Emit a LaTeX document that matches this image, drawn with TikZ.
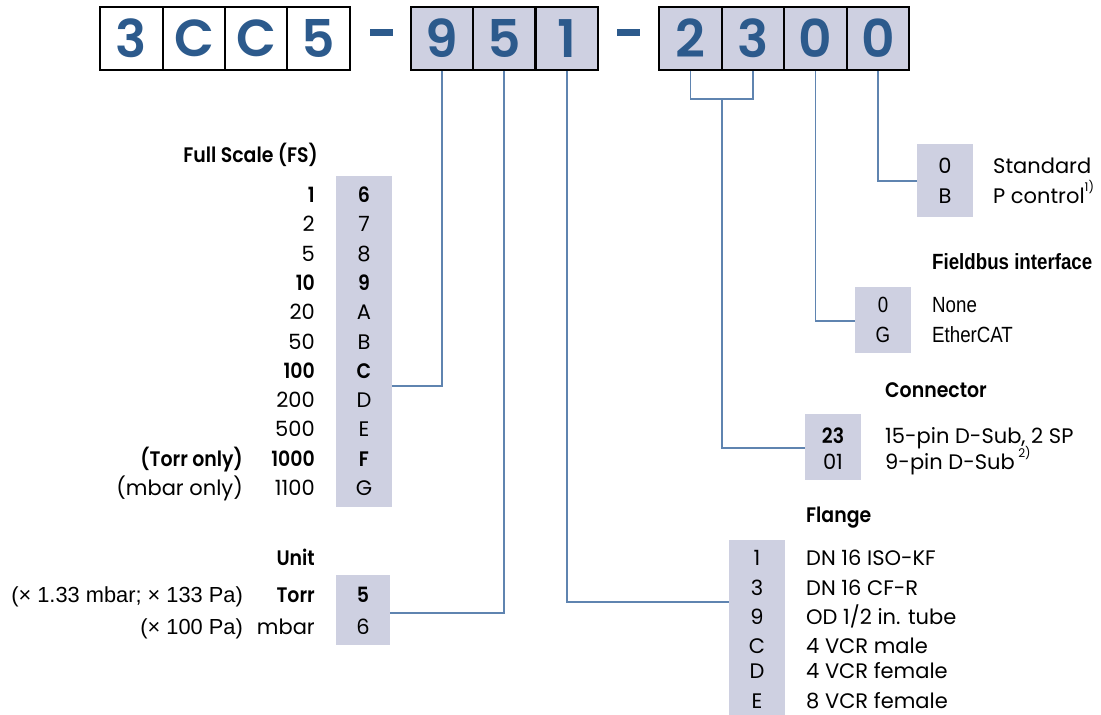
\documentclass[tikz,border=0pt]{standalone}
\usepackage{fontspec}
\setmainfont{Poppins}[BoldFont={Poppins SemiBold}, BoldFeatures={FakeStretch=0.9}]
\newfontfamily\digitfont{Poppins SemiBold}
\newfontfamily\narrowfont{Liberation Sans}[FakeStretch=0.85]
\newfontfamily\helvfont{Liberation Sans}
\usepackage{tikz}
\definecolor{codeblue}{HTML}{2C5A8C}
\definecolor{codegray}{HTML}{CED0E1}
\definecolor{linkblue}{HTML}{5F84B0}
\newcommand{\noteref}[1]{\raisebox{0.55em}{\fontsize{12}{12}\selectfont #1}}
\tikzset{
  digit/.style={draw=black, line width=1.8pt, minimum width=62.5pt, minimum height=63pt, inner sep=0pt,
    font=\digitfont\fontsize{52}{52}\selectfont, text=codeblue},
  coded/.style={digit, fill=codegray},
  bar/.style={fill=codeblue, minimum width=23pt, minimum height=7pt, inner sep=0pt},
  codecol/.style={fill=codegray, inner sep=0pt},
  entry/.style={font=\fontsize{21}{24}\selectfont, text height=15pt, text depth=0pt, inner sep=0pt},
  slim/.style={font=\narrowfont\fontsize{22}{24}\selectfont, text height=15pt, text depth=0pt, inner sep=0pt},
  head/.style={entry, font=\fontsize{21}{24}\selectfont\bfseries},
  link/.style={linkblue, line width=1.4pt},
}

\begin{document}
\begin{tikzpicture}[x=1pt,y=-1pt]
\useasboundingbox (0,0) rectangle (1101,715);

\node[digit] (p1) at (131.5,38.5) {3};
\node[digit] (p2) at (194,38.5) {C};
\node[digit] (p3) at (256,38.5) {C};
\node[digit] (p4) at (318.5,38.5) {5};
\node[bar] (dashA) at (381.5,32) {};
\node[coded] (cfs) at (442,38.5) {9};
\node[coded] (cunit) at (504,38.5) {5};
\node[coded] (cfl) at (567,38.5) {1};
\node[bar] (dashB) at (628.5,32) {};
\node[coded] (ccon1) at (690.5,38.5) {2};
\node[coded] (ccon2) at (753,38.5) {3};
\node[coded] (cbus) at (815.5,38.5) {0};
\node[coded] (cctl) at (878,38.5) {0};

\node[codecol, minimum width=56pt, minimum height=331pt] (fscol) at (364,341.5) {};
\node[head, anchor=east] (fshead) at (318,155) {Full Scale (FS)};
\node[entry] (fs6) at (364,195) {\bfseries 6};
\node[entry] (fs7) at (364,224.3) {7};
\node[entry] (fs8) at (364,253.6) {8};
\node[entry] (fs9) at (364,282.9) {\bfseries 9};
\node[entry] (fsA) at (364,312.2) {A};
\node[entry] (fsB) at (364,341.5) {B};
\node[entry] (fsC) at (364,370.8) {\bfseries C};
\node[entry] (fsD) at (364,400.1) {D};
\node[entry] (fsE) at (364,429.4) {E};
\node[entry] (fsF) at (364,458.7) {\bfseries F};
\node[entry] (fsG) at (364,488) {G};
\node[entry, anchor=east] (fv1) at (315,195) {\bfseries 1};
\node[entry, anchor=east] (fv2) at (315,224.3) {2};
\node[entry, anchor=east] (fv5) at (315,253.6) {5};
\node[entry, anchor=east] (fv10) at (315,282.9) {\bfseries 10};
\node[entry, anchor=east] (fv20) at (315,312.2) {20};
\node[entry, anchor=east] (fv50) at (315,341.5) {50};
\node[entry, anchor=east] (fv100) at (315,370.8) {\bfseries 100};
\node[entry, anchor=east] (fv200) at (315,400.1) {200};
\node[entry, anchor=east] (fv500) at (315,429.4) {500};
\node[entry, anchor=east] (fv1000) at (315,458.7) {\bfseries 1000};
\node[entry, anchor=east] (fv1100) at (315,488) {1100};
\node[entry, anchor=east] (torronly) at (243,458.7) {\bfseries (Torr only)};
\node[entry, anchor=east] (mbaronly) at (243,488) {(mbar only)};

\node[codecol, minimum width=54pt, minimum height=70pt] (unitcol) at (363,610) {};
\node[head, anchor=east] (unithead) at (315,558) {Unit};
\node[entry] (u5) at (363,595) {\bfseries 5};
\node[entry] (u6) at (363,627) {6};
\node[entry, anchor=east] (utorr) at (315,595) {\bfseries Torr};
\node[entry, anchor=east] (umbar) at (315,627) {mbar};
\node[entry, anchor=east, font=\helvfont\fontsize{21.8}{24}\selectfont] (utorrpa) at (243,595) {(× 1.33 mbar; × 133 Pa)};
\node[entry, anchor=east, font=\helvfont\fontsize{21.8}{24}\selectfont] (umbarpa) at (243,627) {(× 100 Pa)};

\node[codecol, minimum width=56pt, minimum height=175pt] (flcol) at (757,627.5) {};
\node[head, anchor=west] (flhead) at (806,515) {Flange};
\node[entry] (fl1) at (757,558) {1};
\node[entry] (fl3) at (757,588) {3};
\node[entry] (fl9) at (757,617) {9};
\node[entry] (flC) at (757,646) {C};
\node[entry] (flD) at (757,671) {D};
\node[entry] (flE) at (757,701) {E};
\node[entry, anchor=west] (fltx1) at (806,558) {DN 16 ISO-KF};
\node[entry, anchor=west] (fltx3) at (806,588) {DN 16 CF-R};
\node[entry, anchor=west] (fltx9) at (806,617) {OD 1/2 in. tube};
\node[entry, anchor=west] (fltxC) at (806,646) {4 VCR male};
\node[entry, anchor=west] (fltxD) at (806,671) {4 VCR female};
\node[entry, anchor=west] (fltxE) at (806,701) {8 VCR female};

\node[codecol, minimum width=56pt, minimum height=66pt] (concol) at (833,447) {};
\node[head, anchor=west] (conhead) at (885,390) {Connector};
\node[entry] (con23) at (833,436) {\bfseries 23};
\node[entry] (con01) at (833,462) {01};
\node[entry, anchor=west] (contx23) at (885,436) {15-pin D-Sub, 2 SP};
\node[entry, anchor=west] (contx01) at (885,462) {9-pin D-Sub\,\noteref{2)}};

\node[codecol, minimum width=56pt, minimum height=66pt] (buscol) at (883,320) {};
\node[slim, anchor=west, font=\narrowfont\fontsize{22}{24}\selectfont\bfseries] (bushead) at (932,262) {Fieldbus interface};
\node[slim] (bus0) at (883,305) {0};
\node[slim] (busG) at (883,335) {G};
\node[slim, anchor=west] (bustx0) at (932,305) {None};
\node[slim, anchor=west] (bustxG) at (932,335) {EtherCAT};

\node[codecol, minimum width=56pt, minimum height=73pt] (ctlcol) at (945,180.5) {};
\node[entry] (ctl0) at (945,166) {0};
\node[entry] (ctlB) at (945,196) {B};
\node[entry, anchor=west] (ctltx0) at (993,166) {Standard};
\node[entry, anchor=west] (ctltxB) at (993,196) {P control\noteref{1)}};

\coordinate (fsin) at (fscol.east |- 0,386);
\coordinate (unitin) at (unitcol.east |- 0,613);
\coordinate (flin) at (flcol.west |- 0,602);
\coordinate (conin) at (concol.west |- 0,448);
\coordinate (busin) at (buscol.west |- 0,321);
\coordinate (ctlin) at (ctlcol.west |- 0,181);
\coordinate (conbrk) at (722,99);

\draw[link] (cfs.south) |- (fsin);
\draw[link] (cunit.south) |- (unitin);
\draw[link] (cfl.south) |- (flin);
\draw[link] (ccon1.south) |- (conbrk) -| (ccon2.south);
\draw[link] (conbrk) |- (conin);
\draw[link] (cbus.south) |- (busin);
\draw[link] (cctl.south) |- (ctlin);
\end{tikzpicture}
\end{document}
